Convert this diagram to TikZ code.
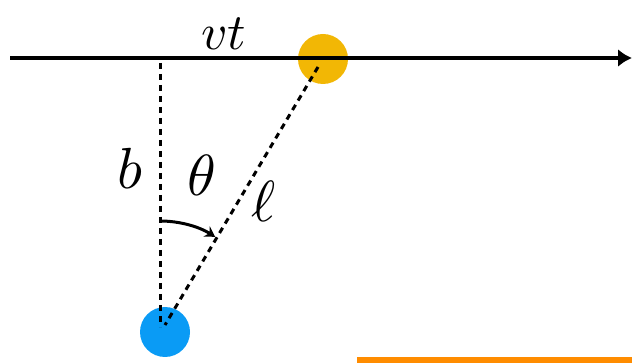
\documentclass[tikz,border=0pt]{standalone}
\usepackage{amsmath}
\usepackage{amssymb}
\usetikzlibrary{arrows.meta}
\definecolor{gold}{HTML}{F2B705}
\definecolor{sky}{HTML}{0A9BF5}
\definecolor{amber}{HTML}{FF8C00}

\begin{document}
\begin{tikzpicture}[x=1pt,y=-1pt,
    ball/.style={circle,minimum size=50pt,inner sep=0pt},
    guide/.style={line width=3pt,dash pattern=on 6pt off 5pt},
    lbl/.style={inner sep=0pt,scale=5.8}]
    \useasboundingbox (0,0) rectangle (632,363);

    \node[ball,fill=gold] (src) at (323,59) {};
    \node[ball,fill=sky] (obs) at (165,332) {};
    \coordinate (start) at (10,58);
    \coordinate (end) at (632,58);
    \coordinate (foot) at (160,63);
    \coordinate (low) at (160,327);
    \coordinate (arcstart) at (160,221);

    \draw[line width=3.5pt,-{Latex[length=14pt,width=18pt]}] (start) -- (end);
    \draw[guide] (foot) -- (low);
    \draw[guide] ([shift={(-5,8)}]src.center) -- ([shift={(0,-7)}]obs.center);
    \draw[line width=3pt,-{Stealth[length=10pt,width=12pt]}] (arcstart) arc[start angle=90,end angle=58,radius=104pt];

    \node[lbl,scale=0.88] (vt) at (224,34) {$vt$};
    \node[lbl] (b) at (130,168) {$b$};
    \node[lbl] (theta) at (202,175) {$\theta$};
    \node[lbl] (ell) at (264,201) {$\ell$};

    \fill[amber] (357,357) rectangle (632,363);
  \end{tikzpicture}
\end{document}
